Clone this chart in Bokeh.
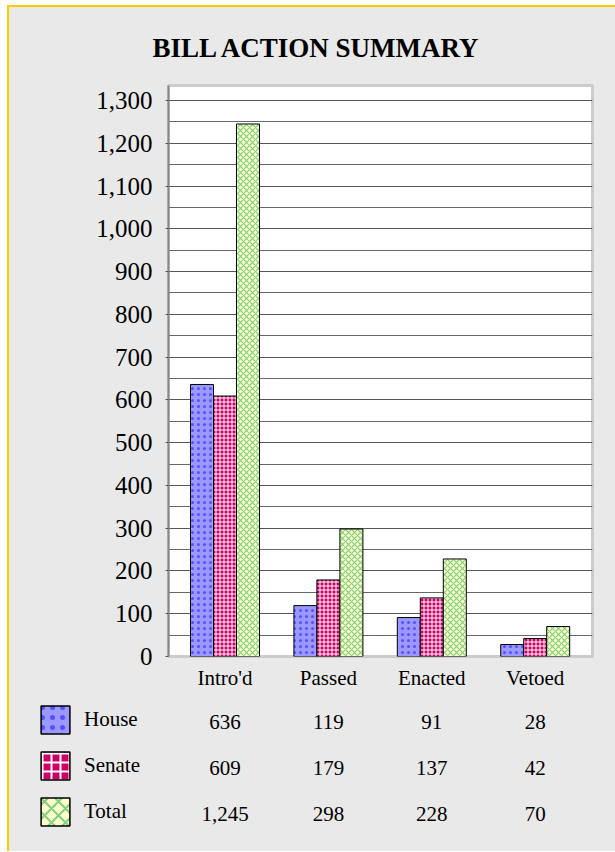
from bokeh.plotting import figure
from bokeh.layouts import column
from bokeh.models import (ColumnDataSource, Range1d, FixedTicker, NumeralTickFormatter,
                          Legend, LegendItem)
from bokeh.transform import dodge
from bokeh.embed import file_html
from bokeh.resources import INLINE

# ---- data ----
categories = ["Intro'd", "Passed", "Enacted", "Vetoed"]
series = ["House", "Senate", "Total"]
house = [636, 119, 91, 28]
senate = [609, 179, 137, 42]
total = [1245, 298, 228, 70]
y_ticks = [0, 100, 200, 300, 400, 500, 600, 700, 800, 900, 1000, 1100, 1200, 1300]
y_minor = [50, 150, 250, 350, 450, 550, 650, 750, 850, 950, 1050, 1150, 1250]

FONT = "Liberation Serif"
W = 606
H1, H2 = 688, 156
BAR_W = 0.2224
# layout geometry (pixels)
FL, FR, FT, FB = 159, 583, 77, 649      # chart frame in canvas px
C0, PITCH = 215.5, 103.4                # first group centre, group pitch (px)

idx = list(range(len(categories)))
src = ColumnDataSource(dict(x=idx, house=house, senate=senate, total=total))

p = figure(width=W, height=H1, output_backend="svg", toolbar_location=None,
           x_range=Range1d((FL - C0) / PITCH, (FR - C0) / PITCH),
           y_range=Range1d(0, 1335),
           min_border_left=FL, min_border_right=W - FR, min_border_top=FT,
           min_border_bottom=H1 - FB)
p.frame_align = False

p.border_fill_color = "#e9e9e9"
p.background_fill_color = "white"
p.outline_line_color = "#cccccc"
p.outline_line_width = 3

# title
p.title.text = "BILL ACTION SUMMARY"
p.title.text_font = FONT
p.title.text_font_style = "bold"
p.title.text_font_size = "27px"
p.title.text_color = "black"
p.title.align = "left"
p.title.offset = -16
p.title.standoff = 46

styles = [
    dict(col="house", fill="#9999ff", hatch="dot", hcol="#5a4dff", hscale=6, hw=1.2),
    dict(col="senate", fill="#cc0066", hatch="cross", hcol="white", hscale=4, hw=1.0),
    dict(col="total", fill="#ffffcc", hatch="diagonal_cross", hcol="#7fcf7f", hscale=6, hw=1.2),
]
offsets = [-BAR_W, 0.0, BAR_W]
renderers = []
for st, off in zip(styles, offsets):
    r = p.vbar(x=dodge("x", off, range=p.x_range), top=st["col"], width=BAR_W, bottom=0,
               source=src, fill_color=st["fill"], line_color="black", line_width=1,
               hatch_pattern=st["hatch"], hatch_color=st["hcol"], hatch_scale=st["hscale"],
               hatch_weight=st["hw"])
    renderers.append(r)

# axes
xa = p.xaxis[0]
xa.ticker = FixedTicker(ticks=idx)
xa.major_label_overrides = {i: c for i, c in zip(idx, categories)}
xa.axis_line_color = None
xa.major_tick_line_color = None
xa.minor_tick_line_color = None
xa.major_label_text_font = FONT
xa.major_label_text_font_size = "21px"
xa.major_label_text_color = "black"
xa.major_label_standoff = 3

ya = p.yaxis[0]
ya.ticker = FixedTicker(ticks=y_ticks, minor_ticks=y_minor)
ya.formatter = NumeralTickFormatter(format="0,0")
ya.axis_line_color = "#888888"
ya.axis_line_width = 2
ya.major_tick_line_color = "#555555"
ya.major_tick_out = 3
ya.major_tick_in = 0
ya.minor_tick_line_color = None
ya.major_label_text_font = FONT
ya.major_label_text_font_size = "25px"
ya.major_label_text_color = "black"
ya.major_label_standoff = 12

p.xgrid.grid_line_color = None
p.ygrid.ticker = FixedTicker(ticks=y_ticks, minor_ticks=y_minor)
p.ygrid.grid_line_color = "#555555"
p.ygrid.grid_line_width = 1
p.ygrid.minor_grid_line_color = "#666666"
p.ygrid.minor_grid_line_width = 1

# ---- data table below the chart ----
ROW0, ROWP = 26, 46   # first row centre, row pitch (px)
t = figure(width=W, height=H2, output_backend="svg", toolbar_location=None,
           x_range=Range1d((0 - C0) / PITCH, (W - C0) / PITCH),
           y_range=Range1d((H2 - ROW0) / ROWP, -ROW0 / ROWP),
           x_axis_location=None, y_axis_location=None,
           min_border_left=0, min_border_right=0, min_border_top=0, min_border_bottom=0)
t.frame_align = False
t.border_fill_color = "#e9e9e9"
t.background_fill_color = "#e9e9e9"
t.outline_line_color = None
t.grid.grid_line_color = None

leg_renderers = []
leg_hatch = [dict(scale=10, w=2.2), dict(scale=9, w=2.0), dict(scale=14, w=2.0)]
for st, lh in zip(styles, leg_hatch):
    r = t.vbar(x="x", top=st["col"], width=BAR_W, source=src, fill_color=st["fill"],
               line_color="black", line_width=1.5, hatch_pattern=st["hatch"],
               hatch_color=st["hcol"], hatch_scale=lh["scale"],
               hatch_weight=lh["w"], visible=False)
    leg_renderers.append(r)

legend = Legend(items=[LegendItem(label=s, renderers=[r]) for s, r in zip(series, leg_renderers)],
                location=(28, 22), orientation="vertical",
                glyph_width=36, glyph_height=35, spacing=11, label_standoff=11,
                padding=0, margin=0, border_line_color=None, background_fill_alpha=0,
                label_text_font=FONT, label_text_font_size="21px", label_text_color="black")
t.add_layout(legend)

tx, ty, tt = [], [], []
for row, vals in enumerate([house, senate, total]):
    for i, v in zip(idx, vals):
        tx.append(i)
        ty.append(row)
        tt.append(f"{v:,}")
t.text(x="x", y="y", text="t", source=ColumnDataSource(dict(x=tx, y=ty, t=tt)),
       text_font=FONT, text_font_size="21px", text_color="black",
       text_align="center", text_baseline="middle")

layout = column(p, t, spacing=0)
layout.styles = {"margin-left": "7px", "margin-top": "5px",
                 "border-top": "2px solid #ffcc00", "border-left": "2px solid #ffcc00",
                 "background-color": "#e9e9e9"}

open("out.html", "w").write(file_html(layout, INLINE))
